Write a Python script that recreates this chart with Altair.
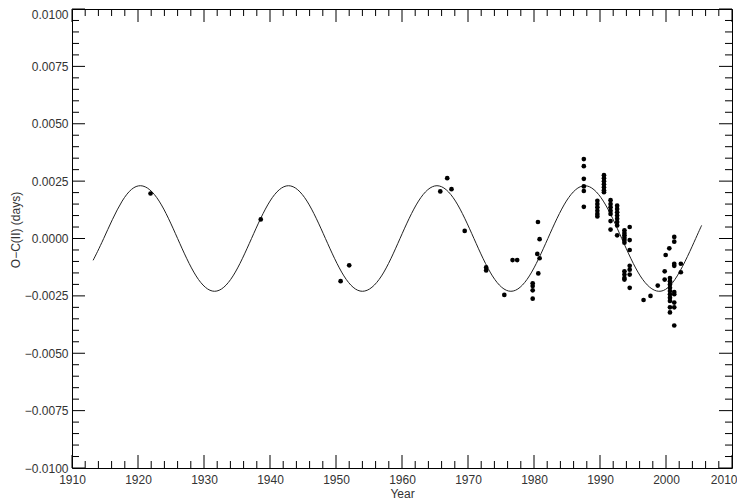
import altair as alt
import pandas as pd

# Observed O-C values (year, days)
obs_year = [
    1921.9, 1938.6, 1950.7, 1952.0, 1965.8, 1966.85, 1967.5, 1969.5,
    1972.75, 1972.75, 1975.5, 1976.75, 1977.45,
    1979.8, 1979.8, 1979.8, 1979.8,
    1980.6, 1980.85, 1980.5, 1980.85, 1980.65,
    1987.55, 1987.55, 1987.55, 1987.55, 1987.55, 1987.55,
    1989.6, 1989.6, 1989.6, 1989.6, 1989.6, 1989.6,
    1990.6, 1990.6, 1990.6, 1990.6, 1990.6, 1990.6, 1990.6,
    1991.6, 1991.6, 1991.6, 1991.6, 1991.6, 1991.6, 1991.6,
    1992.6, 1992.6, 1992.6, 1992.6, 1992.6, 1992.6, 1992.6, 1992.6,
    1993.7, 1993.7, 1993.7, 1993.7, 1993.7, 1993.7, 1993.7, 1993.7, 1993.7, 1993.7,
    1994.5, 1994.5, 1994.5, 1994.5, 1994.5, 1994.5, 1994.5,
    1996.6, 1997.65, 1998.75, 1999.8, 1999.8, 1999.95, 2000.5,
    2000.6, 2000.6, 2000.6, 2000.6, 2000.6, 2000.6, 2000.6, 2000.6, 2000.6, 2000.6,
    2001.25, 2001.25, 2001.25, 2001.25, 2001.25, 2001.25, 2001.25, 2001.25, 2001.25,
    2002.25, 2002.25,
]
obs_oc = [
    0.00196, 0.00083, -0.00186, -0.00117, 0.00205, 0.00263, 0.00215, 0.00033,
    -0.00126, -0.00139, -0.00246, -0.00094, -0.00094,
    -0.00195, -0.00207, -0.00226, -0.00262,
    0.00072, -0.00003, -0.00067, -0.00086, -0.00152,
    0.00346, 0.00315, 0.00260, 0.00227, 0.00207, 0.00138,
    0.00164, 0.00150, 0.00136, 0.00121, 0.00107, 0.00096,
    0.00276, 0.00263, 0.00250, 0.00236, 0.00223, 0.00210, 0.00202,
    0.00167, 0.00150, 0.00136, 0.00121, 0.00107, 0.00076, 0.00039,
    0.00143, 0.00129, 0.00114, 0.00100, 0.00086, 0.00072, 0.00057, 0.00014,
    0.00036, 0.00024, 0.00014, 0.00003, -0.00007, -0.00018, -0.00143, -0.00157, -0.00172, -0.00179,
    0.00050, -0.00007, -0.00050, -0.00119, -0.00136, -0.00157, -0.00215,
    -0.00268, -0.00250, -0.00205, -0.00143, -0.00179, -0.00072, -0.00043,
    -0.00172, -0.00186, -0.00200, -0.00215, -0.00229, -0.00243, -0.00258, -0.00272, -0.00300, -0.00322,
    0.00007, -0.00014, -0.00110, -0.00119, -0.00233, -0.00243, -0.00279, -0.00300, -0.00379,
    -0.00110, -0.00147,
]

# Fitted curve (peaks, troughs, crossings and mid-slopes)
fit_year = [
    1913.2, 1914.8, 1917.6, 1920.4, 1923.2, 1926.0, 1928.8, 1931.6, 1934.4,
    1937.2, 1940.0, 1942.8, 1945.6, 1948.4, 1951.2, 1954.0, 1956.9, 1959.7,
    1962.5, 1965.3, 1968.1, 1970.9, 1973.7, 1976.5, 1979.3, 1982.1, 1984.9,
    1987.7, 1990.5, 1993.3, 1996.1, 1998.9, 2001.7, 2004.5, 2005.4,
]
fit_oc = [
    -0.00095, 0.0, 0.00163, 0.0023, 0.00163, 0.0, -0.00163, -0.0023, -0.00163,
    0.0, 0.00163, 0.0023, 0.00163, 0.0, -0.00163, -0.0023, -0.00163, 0.0,
    0.00163, 0.0023, 0.00163, 0.0, -0.00163, -0.0023, -0.00163, 0.0, 0.00163,
    0.0023, 0.00163, 0.0, -0.00163, -0.0023, -0.00163, 0.0, 0.00057,
]

# Axis tick values
x_major = [1910, 1920, 1930, 1940, 1950, 1960, 1970, 1980, 1990, 2000, 2010]
x_minor = [y for y in range(1910, 2011, 2) if y % 10 != 0]
y_major = [-0.01, -0.0075, -0.005, -0.0025, 0.0, 0.0025, 0.005, 0.0075, 0.01]
y_minor = [round(-0.01 + 0.0005 * i, 4) for i in range(41) if i % 5 != 0]

W, H = 660, 459
MAJ, MIN = 13, 7
FONT = "Liberation Sans"
INK = "#333333"

xs = alt.Scale(domain=[1910, 2010], nice=False, zero=False)
ys = alt.Scale(domain=[-0.01, 0.01], nice=False, zero=False)

obs = pd.DataFrame({"year": obs_year, "oc": obs_oc})
fit = pd.DataFrame({"year": fit_year, "oc": fit_oc})

xaxis = alt.Axis(values=x_major, format="d", ticks=False, domain=False, grid=False,
                 labelFlush=False, labelPadding=6,
                 labelAlign=alt.ExprRef(expr="datum.value == 2010 ? 'right' : 'center'"),
                 labelOffset=alt.ExprRef(expr="datum.value == 2010 ? 5 : 0"),
                 title="Year", titleX=W / 2, titleY=25,
                 titleBaseline="middle", titleAlign="center")
yaxis = alt.Axis(values=y_major, format=".4f", ticks=False, domain=False, grid=False,
                 labelFlush=False, labelPadding=4,
                 labelOffset=alt.ExprRef(expr="datum.value >= 0.01 ? 5 : 0"),
                 title="O−C(II) (days)", titleX=-57, titleY=H / 2 - 9,
                 titleAngle=270, titleBaseline="middle", titleAlign="center")

curve = alt.Chart(fit).mark_line(color="#222222", strokeWidth=1, interpolate="natural").encode(
    x=alt.X("year:Q", scale=xs, axis=xaxis),
    y=alt.Y("oc:Q", scale=ys, axis=yaxis),
)
points = alt.Chart(obs).mark_circle(size=22, color="black", opacity=1).encode(
    x=alt.X("year:Q", scale=xs, axis=xaxis),
    y=alt.Y("oc:Q", scale=ys, axis=yaxis),
)


def xticks(vals, length, top):
    df = pd.DataFrame({"year": vals})
    return alt.Chart(df).mark_rule(color="black", strokeWidth=1).encode(
        x=alt.X("year:Q", scale=xs, axis=xaxis),
        y=alt.value(0 if top else H),
        y2=alt.value(length if top else H - length),
    )


def yticks(vals, length, right):
    df = pd.DataFrame({"oc": vals})
    return alt.Chart(df).mark_rule(color="black", strokeWidth=1).encode(
        y=alt.Y("oc:Q", scale=ys, axis=yaxis),
        x=alt.value(W if right else 0),
        x2=alt.value(W - length if right else length),
    )


ticks = [
    xticks(x_major, MAJ, False), xticks(x_minor, MIN, False),
    xticks(x_major, MAJ, True), xticks(x_minor, MIN, True),
    yticks(y_major, MAJ, False), yticks(y_minor, MIN, False),
    yticks(y_major, MAJ, True), yticks(y_minor, MIN, True),
]

chart = alt.layer(curve, points, *ticks).properties(
    width=W, height=H,
    autosize=alt.AutoSizeParams(type="none"),
    padding={"left": 64, "top": 1, "right": 5, "bottom": 32},
    background="white",
).configure_view(
    stroke="black", strokeWidth=1
).configure_axis(
    labelFont=FONT, labelFontSize=12, labelColor=INK,
    titleFont=FONT, titleFontSize=12, titleColor=INK, titleFontWeight="normal",
)

chart.save("out.html", embed_options={"renderer": "svg", "actions": False})
